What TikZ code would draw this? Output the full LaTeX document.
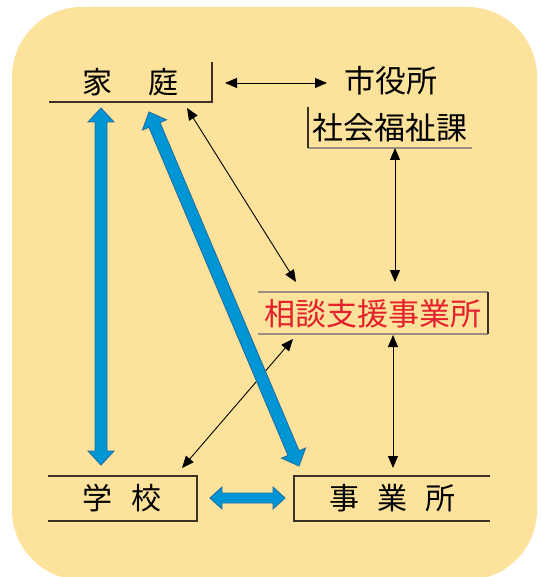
\documentclass[tikz,border=0pt]{standalone}
\usepackage{fontspec}
\newfontfamily\jpfont{Noto Sans CJK JP}
\usetikzlibrary{calc,arrows.meta}
\definecolor{bgyellow}{HTML}{FCE29B}
\definecolor{fatfill}{HTML}{0096D6}
\definecolor{fatedge}{HTML}{1F6FA3}
\definecolor{rulecol}{HTML}{3A3325}
\definecolor{graycol}{HTML}{9A9080}
\definecolor{jred}{HTML}{E3202B}
\tikzset{
  lbl/.style={inner sep=0pt, font=\jpfont\fontsize{30pt}{30pt}\selectfont},
  biglbl/.style={inner sep=0pt, font=\jpfont\fontsize{31pt}{31pt}\selectfont},
  rulebox/.style={line width=1.8pt, draw=rulecol},
  grayrule/.style={line width=1.6pt, draw=graycol},
  thinarr/.style={line width=0.9pt, draw=black,
    {Triangle[length=12pt,width=10pt]}-{Triangle[length=12pt,width=10pt]}},
  fatblue/.style={fill=fatfill, draw=fatedge, line width=0.9pt, line join=miter}
}
\newcommand\fatarrow[5]{%
  \filldraw[fatblue] (#1)
    -- ($(#1)!#3!(#2)!#4!90:(#2)$)
    -- ($(#1)!#3!(#2)!#5!90:(#2)$)
    -- ($(#2)!#3!(#1)!#5!-90:(#1)$)
    -- ($(#2)!#3!(#1)!#4!-90:(#1)$)
    -- (#2)
    -- ($(#2)!#3!(#1)!#4!90:(#1)$)
    -- ($(#2)!#3!(#1)!#5!90:(#1)$)
    -- ($(#1)!#3!(#2)!#5!-90:(#2)$)
    -- ($(#1)!#3!(#2)!#4!-90:(#2)$)
    -- cycle;}
\begin{document}
\begin{tikzpicture}[x=1pt,y=-1pt]
\useasboundingbox (0,0) rectangle (540,577);
\fill[white] (0,0) rectangle (540,577);
\fill[bgyellow, rounded corners=70pt] (12,7) rectangle (537,580);

% texts
\node[lbl] (home) at (130,82) {家\hspace{36pt}庭};
\node[biglbl] (city) at (391,81) {市役所};
\node[biglbl] (welfare) at (390,128) {社会福祉課};
\node[biglbl, text=jred] (soudan) at (373,314) {相談支援事業所};
\node[lbl] (school) at (122,498) {学\hspace{19pt}校};
\node[lbl] (office) at (392,498) {事\hspace{18pt}業\hspace{18pt}所};

% frames
\draw[rulebox] (49,102) -- (212,102) -- (212,62);
\draw[grayrule] (308,148) -- (472,148);
\draw[rulebox] (308,107) -- (308,148);
\draw[grayrule] (258,292) -- (488,292);
\draw[grayrule] (258,334) -- (488,334);
\draw[rulebox] (488,292) -- (488,334);
\draw[rulebox] (48,476) -- (197,476) -- (197,521) -- (48,521);
\draw[rulebox] (490,476) -- (294,476) -- (294,521) -- (490,521);

% arrow end points
\coordinate (hcR) at (225,83);   \coordinate (cL) at (327,83);
\coordinate (wB) at (395,148);   \coordinate (sT) at (395,282);
\coordinate (sB) at (393,335);   \coordinate (oT) at (393,468);
\coordinate (hD) at (187,108);   \coordinate (sUL) at (296,282);
\coordinate (sLL) at (293,339);  \coordinate (scR) at (182,468);
\coordinate (hV) at (101,108);   \coordinate (scV) at (101,465);
\coordinate (hF) at (149,112);   \coordinate (oF) at (299,466);
\coordinate (scH) at (210,498);  \coordinate (oH) at (285,498);

% thin arrows
\draw[thinarr] (hcR) -- (cL);
\draw[thinarr] (wB) -- (sT);
\draw[thinarr] (sB) -- (oT);
\draw[thinarr] (hD) -- (sUL);
\draw[thinarr] (sLL) -- (scR);

% thick arrows
\fatarrow{hV}{scV}{14pt}{13pt}{6pt}
\fatarrow{hF}{oF}{14pt}{13pt}{6pt}
\fatarrow{scH}{oH}{12pt}{11pt}{5pt}
\end{tikzpicture}
\end{document}
